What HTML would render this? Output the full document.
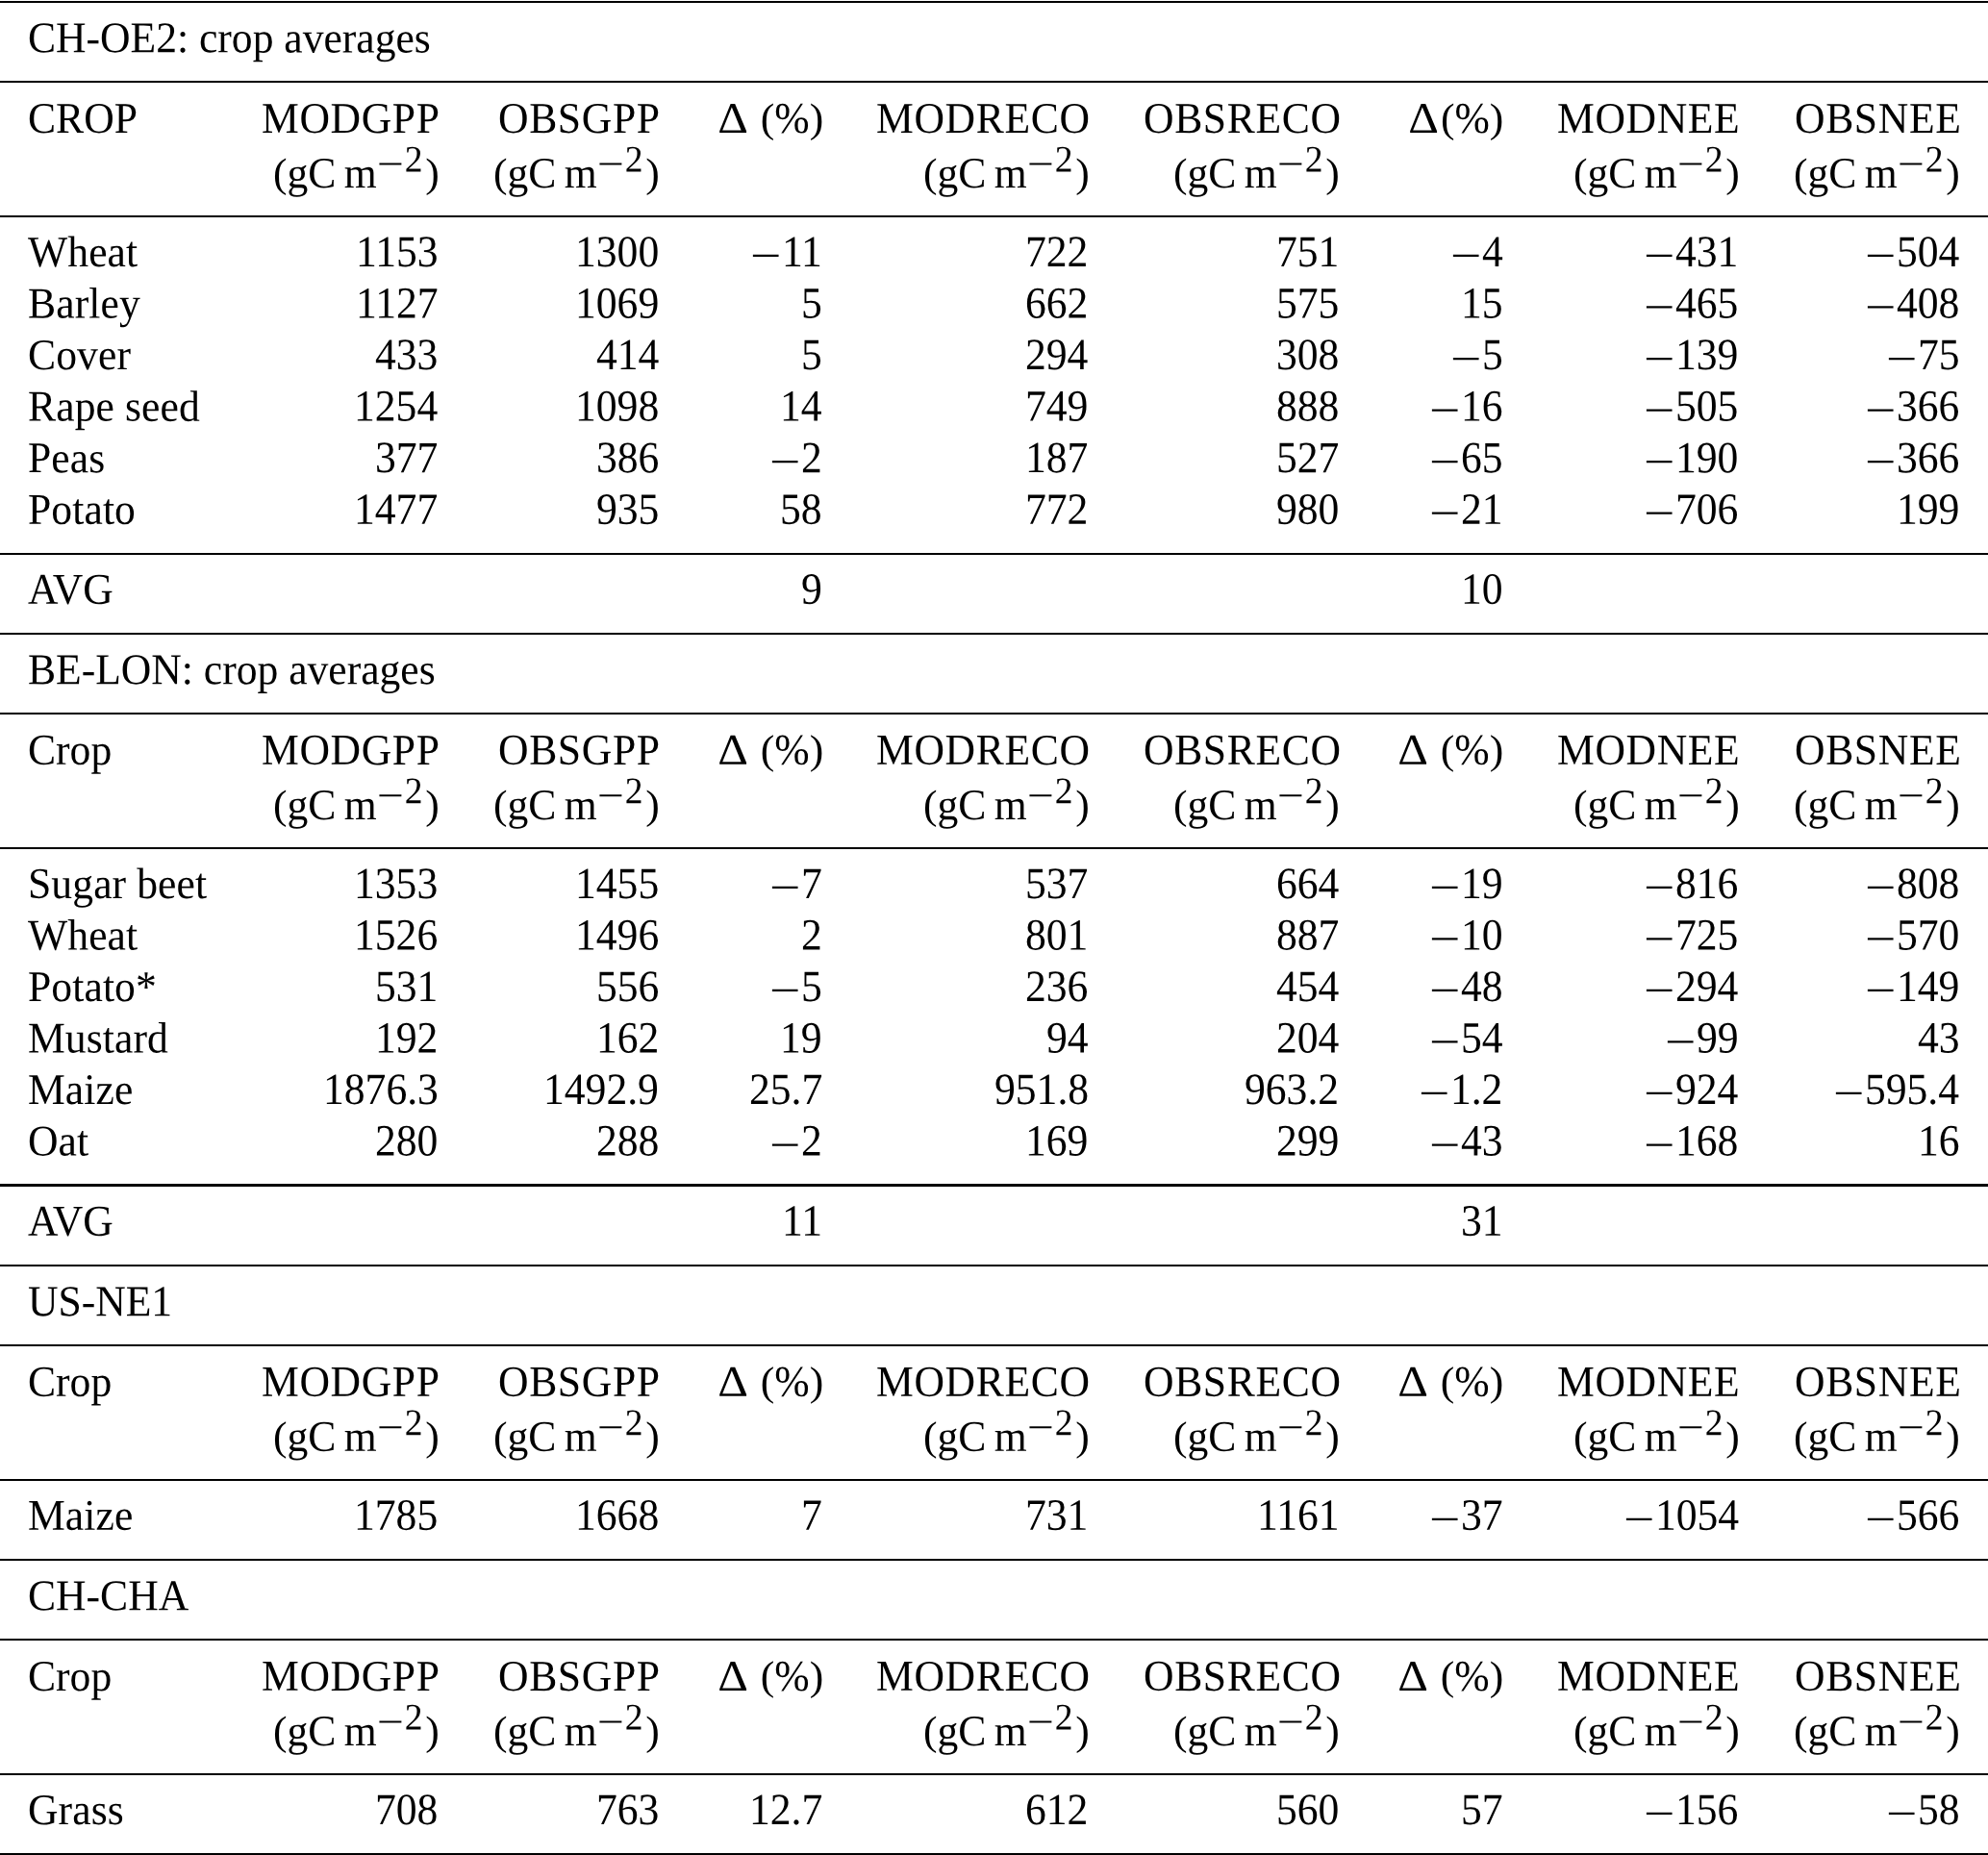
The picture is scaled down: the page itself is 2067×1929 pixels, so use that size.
<!DOCTYPE html>
<html lang="en"><head><meta charset="utf-8"><title>Crop averages table</title>
<style>
html,body{margin:0;padding:0;background:#fff}
body{width:2067px;height:1929px;position:relative;overflow:hidden;
 font-family:"Liberation Serif","Times New Roman",serif;font-size:43.6px;color:#000}
.page{position:absolute;left:0;top:0;width:2067px;height:1929px;will-change:transform}
.hr{position:absolute;left:0;width:2067px;height:2.15px;background:#000}
.t{position:absolute;white-space:nowrap;line-height:1;transform-origin:50% 36px;transform:translateY(var(--y)) rotate(0.03deg) scaleY(1.04)}
.n{transform:translateY(var(--y)) rotate(0.03deg) scaleY(1.062)}
.h{letter-spacing:0.65px}
.m{font-style:normal;display:inline-block;transform-origin:50% 62%;transform:translate(0,0.088em) scale(1.315,0.95);margin:0 0.107em}
.d{font-weight:normal;display:inline-block;transform-origin:50% 100%;transform:scale(1.13,1.0);margin:0 0.095em 0 0.04em}
.p{display:inline-block;transform-origin:50% 44%;transform:scaleY(0.94)}
.tt{letter-spacing:0.1px}
sup .m{transform:translate(-0.02em,0.128em) scale(1.315,1.0)}
.ts{letter-spacing:-0.43px}
sup{font-size:86%;line-height:0;vertical-align:baseline;position:relative;top:-0.43em;margin-right:0.07em}
</style></head>
<body>
<div class="page">
<div class="hr" style="top:0.80px"></div>
<div class="t" style="left:28.9px;top:18px;--y:0.37px">CH-OE2: crop averages</div>
<div class="hr" style="top:83.89px"></div>
<div class="t" style="left:28.9px;top:101px;--y:0.97px">CROP</div>
<div class="t h" style="right:1609.40px;top:101px;--y:0.97px">MODGPP</div>
<div class="t" style="right:1610.80px;top:159px;--y:0.07px"><span class="p">(</span>gC<span class="ts"> </span>m<sup><i class="m">−</i>2</sup><span class="p">)</span></div>
<div class="t h" style="right:1380.00px;top:101px;--y:0.97px">OBSGPP</div>
<div class="t" style="right:1381.40px;top:159px;--y:0.07px"><span class="p">(</span>gC<span class="ts"> </span>m<sup><i class="m">−</i>2</sup><span class="p">)</span></div>
<div class="t" style="right:1211.15px;top:101px;--y:0.97px"><b class="d">Δ</b> <span class="p">(</span>%<span class="p">)</span></div>
<div class="t h" style="right:933.30px;top:101px;--y:0.97px">MODRECO</div>
<div class="t" style="right:934.70px;top:159px;--y:0.07px"><span class="p">(</span>gC<span class="ts"> </span>m<sup><i class="m">−</i>2</sup><span class="p">)</span></div>
<div class="t h" style="right:672.70px;top:101px;--y:0.97px">OBSRECO</div>
<div class="t" style="right:674.10px;top:159px;--y:0.07px"><span class="p">(</span>gC<span class="ts"> </span>m<sup><i class="m">−</i>2</sup><span class="p">)</span></div>
<div class="t" style="right:503.65px;top:101px;--y:0.97px"><b class="d">Δ</b><span class="p">(</span>%<span class="p">)</span></div>
<div class="t h" style="right:257.30px;top:101px;--y:0.97px">MODNEE</div>
<div class="t" style="right:258.70px;top:159px;--y:0.07px"><span class="p">(</span>gC<span class="ts"> </span>m<sup><i class="m">−</i>2</sup><span class="p">)</span></div>
<div class="t h" style="right:27.60px;top:101px;--y:0.97px">OBSNEE</div>
<div class="t" style="right:29.00px;top:159px;--y:0.07px"><span class="p">(</span>gC<span class="ts"> </span>m<sup><i class="m">−</i>2</sup><span class="p">)</span></div>
<div class="hr" style="top:223.84px"></div>
<div class="t tt" style="left:28.9px;top:241px;--y:0.02px">Wheat</div>
<div class="t n" style="right:1611.40px;top:241px;--y:0.02px">1153</div>
<div class="t n" style="right:1382.00px;top:241px;--y:0.02px">1300</div>
<div class="t n" style="right:1212.20px;top:241px;--y:0.02px"><i class="m">−</i>11</div>
<div class="t n" style="right:935.30px;top:241px;--y:0.02px">722</div>
<div class="t n" style="right:674.70px;top:241px;--y:0.02px">751</div>
<div class="t n" style="right:504.70px;top:241px;--y:0.02px"><i class="m">−</i>4</div>
<div class="t n" style="right:259.30px;top:241px;--y:0.02px"><i class="m">−</i>431</div>
<div class="t n" style="right:29.60px;top:241px;--y:0.02px"><i class="m">−</i>504</div>
<div class="t tt" style="left:28.9px;top:294px;--y:0.55px">Barley</div>
<div class="t n" style="right:1611.40px;top:294px;--y:0.55px">1127</div>
<div class="t n" style="right:1382.00px;top:294px;--y:0.55px">1069</div>
<div class="t n" style="right:1212.20px;top:294px;--y:0.55px">5</div>
<div class="t n" style="right:935.30px;top:294px;--y:0.55px">662</div>
<div class="t n" style="right:674.70px;top:294px;--y:0.55px">575</div>
<div class="t n" style="right:504.70px;top:294px;--y:0.55px">15</div>
<div class="t n" style="right:259.30px;top:294px;--y:0.55px"><i class="m">−</i>465</div>
<div class="t n" style="right:29.60px;top:294px;--y:0.55px"><i class="m">−</i>408</div>
<div class="t tt" style="left:28.9px;top:348px;--y:0.08px">Cover</div>
<div class="t n" style="right:1611.40px;top:348px;--y:0.08px">433</div>
<div class="t n" style="right:1382.00px;top:348px;--y:0.08px">414</div>
<div class="t n" style="right:1212.20px;top:348px;--y:0.08px">5</div>
<div class="t n" style="right:935.30px;top:348px;--y:0.08px">294</div>
<div class="t n" style="right:674.70px;top:348px;--y:0.08px">308</div>
<div class="t n" style="right:504.70px;top:348px;--y:0.08px"><i class="m">−</i>5</div>
<div class="t n" style="right:259.30px;top:348px;--y:0.08px"><i class="m">−</i>139</div>
<div class="t n" style="right:29.60px;top:348px;--y:0.08px"><i class="m">−</i>75</div>
<div class="t tt" style="left:28.9px;top:401px;--y:0.61px">Rape seed</div>
<div class="t n" style="right:1611.40px;top:401px;--y:0.61px">1254</div>
<div class="t n" style="right:1382.00px;top:401px;--y:0.61px">1098</div>
<div class="t n" style="right:1212.20px;top:401px;--y:0.61px">14</div>
<div class="t n" style="right:935.30px;top:401px;--y:0.61px">749</div>
<div class="t n" style="right:674.70px;top:401px;--y:0.61px">888</div>
<div class="t n" style="right:504.70px;top:401px;--y:0.61px"><i class="m">−</i>16</div>
<div class="t n" style="right:259.30px;top:401px;--y:0.61px"><i class="m">−</i>505</div>
<div class="t n" style="right:29.60px;top:401px;--y:0.61px"><i class="m">−</i>366</div>
<div class="t tt" style="left:28.9px;top:455px;--y:0.14px">Peas</div>
<div class="t n" style="right:1611.40px;top:455px;--y:0.14px">377</div>
<div class="t n" style="right:1382.00px;top:455px;--y:0.14px">386</div>
<div class="t n" style="right:1212.20px;top:455px;--y:0.14px"><i class="m">−</i>2</div>
<div class="t n" style="right:935.30px;top:455px;--y:0.14px">187</div>
<div class="t n" style="right:674.70px;top:455px;--y:0.14px">527</div>
<div class="t n" style="right:504.70px;top:455px;--y:0.14px"><i class="m">−</i>65</div>
<div class="t n" style="right:259.30px;top:455px;--y:0.14px"><i class="m">−</i>190</div>
<div class="t n" style="right:29.60px;top:455px;--y:0.14px"><i class="m">−</i>366</div>
<div class="t tt" style="left:28.9px;top:508px;--y:0.67px">Potato</div>
<div class="t n" style="right:1611.40px;top:508px;--y:0.67px">1477</div>
<div class="t n" style="right:1382.00px;top:508px;--y:0.67px">935</div>
<div class="t n" style="right:1212.20px;top:508px;--y:0.67px">58</div>
<div class="t n" style="right:935.30px;top:508px;--y:0.67px">772</div>
<div class="t n" style="right:674.70px;top:508px;--y:0.67px">980</div>
<div class="t n" style="right:504.70px;top:508px;--y:0.67px"><i class="m">−</i>21</div>
<div class="t n" style="right:259.30px;top:508px;--y:0.67px"><i class="m">−</i>706</div>
<div class="t n" style="right:29.60px;top:508px;--y:0.67px">199</div>
<div class="hr" style="top:574.59px"></div>
<div class="t" style="left:28.9px;top:591px;--y:0.77px">AVG</div>
<div class="t n" style="right:1212.20px;top:591px;--y:0.77px">9</div>
<div class="t n" style="right:504.70px;top:591px;--y:0.77px">10</div>
<div class="hr" style="top:657.69px"></div>
<div class="t" style="left:28.9px;top:675px;--y:0.27px">BE-LON: crop averages</div>
<div class="hr" style="top:740.79px"></div>
<div class="t" style="left:28.9px;top:758px;--y:0.87px">Crop</div>
<div class="t h" style="right:1609.40px;top:758px;--y:0.87px">MODGPP</div>
<div class="t" style="right:1610.80px;top:815px;--y:0.97px"><span class="p">(</span>gC<span class="ts"> </span>m<sup><i class="m">−</i>2</sup><span class="p">)</span></div>
<div class="t h" style="right:1380.00px;top:758px;--y:0.87px">OBSGPP</div>
<div class="t" style="right:1381.40px;top:815px;--y:0.97px"><span class="p">(</span>gC<span class="ts"> </span>m<sup><i class="m">−</i>2</sup><span class="p">)</span></div>
<div class="t" style="right:1211.15px;top:758px;--y:0.87px"><b class="d">Δ</b> <span class="p">(</span>%<span class="p">)</span></div>
<div class="t h" style="right:933.30px;top:758px;--y:0.87px">MODRECO</div>
<div class="t" style="right:934.70px;top:815px;--y:0.97px"><span class="p">(</span>gC<span class="ts"> </span>m<sup><i class="m">−</i>2</sup><span class="p">)</span></div>
<div class="t h" style="right:672.70px;top:758px;--y:0.87px">OBSRECO</div>
<div class="t" style="right:674.10px;top:815px;--y:0.97px"><span class="p">(</span>gC<span class="ts"> </span>m<sup><i class="m">−</i>2</sup><span class="p">)</span></div>
<div class="t" style="right:503.65px;top:758px;--y:0.87px"><b class="d">Δ</b> <span class="p">(</span>%<span class="p">)</span></div>
<div class="t h" style="right:257.30px;top:758px;--y:0.87px">MODNEE</div>
<div class="t" style="right:258.70px;top:815px;--y:0.97px"><span class="p">(</span>gC<span class="ts"> </span>m<sup><i class="m">−</i>2</sup><span class="p">)</span></div>
<div class="t h" style="right:27.60px;top:758px;--y:0.87px">OBSNEE</div>
<div class="t" style="right:29.00px;top:815px;--y:0.97px"><span class="p">(</span>gC<span class="ts"> </span>m<sup><i class="m">−</i>2</sup><span class="p">)</span></div>
<div class="hr" style="top:880.74px"></div>
<div class="t tt" style="left:28.9px;top:897px;--y:0.92px">Sugar beet</div>
<div class="t n" style="right:1611.40px;top:897px;--y:0.92px">1353</div>
<div class="t n" style="right:1382.00px;top:897px;--y:0.92px">1455</div>
<div class="t n" style="right:1212.20px;top:897px;--y:0.92px"><i class="m">−</i>7</div>
<div class="t n" style="right:935.30px;top:897px;--y:0.92px">537</div>
<div class="t n" style="right:674.70px;top:897px;--y:0.92px">664</div>
<div class="t n" style="right:504.70px;top:897px;--y:0.92px"><i class="m">−</i>19</div>
<div class="t n" style="right:259.30px;top:897px;--y:0.92px"><i class="m">−</i>816</div>
<div class="t n" style="right:29.60px;top:897px;--y:0.92px"><i class="m">−</i>808</div>
<div class="t tt" style="left:28.9px;top:951px;--y:0.45px">Wheat</div>
<div class="t n" style="right:1611.40px;top:951px;--y:0.45px">1526</div>
<div class="t n" style="right:1382.00px;top:951px;--y:0.45px">1496</div>
<div class="t n" style="right:1212.20px;top:951px;--y:0.45px">2</div>
<div class="t n" style="right:935.30px;top:951px;--y:0.45px">801</div>
<div class="t n" style="right:674.70px;top:951px;--y:0.45px">887</div>
<div class="t n" style="right:504.70px;top:951px;--y:0.45px"><i class="m">−</i>10</div>
<div class="t n" style="right:259.30px;top:951px;--y:0.45px"><i class="m">−</i>725</div>
<div class="t n" style="right:29.60px;top:951px;--y:0.45px"><i class="m">−</i>570</div>
<div class="t tt" style="left:28.9px;top:1004px;--y:0.98px">Potato*</div>
<div class="t n" style="right:1611.40px;top:1004px;--y:0.98px">531</div>
<div class="t n" style="right:1382.00px;top:1004px;--y:0.98px">556</div>
<div class="t n" style="right:1212.20px;top:1004px;--y:0.98px"><i class="m">−</i>5</div>
<div class="t n" style="right:935.30px;top:1004px;--y:0.98px">236</div>
<div class="t n" style="right:674.70px;top:1004px;--y:0.98px">454</div>
<div class="t n" style="right:504.70px;top:1004px;--y:0.98px"><i class="m">−</i>48</div>
<div class="t n" style="right:259.30px;top:1004px;--y:0.98px"><i class="m">−</i>294</div>
<div class="t n" style="right:29.60px;top:1004px;--y:0.98px"><i class="m">−</i>149</div>
<div class="t tt" style="left:28.9px;top:1058px;--y:0.51px">Mustard</div>
<div class="t n" style="right:1611.40px;top:1058px;--y:0.51px">192</div>
<div class="t n" style="right:1382.00px;top:1058px;--y:0.51px">162</div>
<div class="t n" style="right:1212.20px;top:1058px;--y:0.51px">19</div>
<div class="t n" style="right:935.30px;top:1058px;--y:0.51px">94</div>
<div class="t n" style="right:674.70px;top:1058px;--y:0.51px">204</div>
<div class="t n" style="right:504.70px;top:1058px;--y:0.51px"><i class="m">−</i>54</div>
<div class="t n" style="right:259.30px;top:1058px;--y:0.51px"><i class="m">−</i>99</div>
<div class="t n" style="right:29.60px;top:1058px;--y:0.51px">43</div>
<div class="t tt" style="left:28.9px;top:1112px;--y:0.04px">Maize</div>
<div class="t n" style="right:1611.40px;top:1112px;--y:0.04px">1876.3</div>
<div class="t n" style="right:1382.00px;top:1112px;--y:0.04px">1492.9</div>
<div class="t n" style="right:1212.20px;top:1112px;--y:0.04px">25.7</div>
<div class="t n" style="right:935.30px;top:1112px;--y:0.04px">951.8</div>
<div class="t n" style="right:674.70px;top:1112px;--y:0.04px">963.2</div>
<div class="t n" style="right:504.70px;top:1112px;--y:0.04px"><i class="m">−</i>1.2</div>
<div class="t n" style="right:259.30px;top:1112px;--y:0.04px"><i class="m">−</i>924</div>
<div class="t n" style="right:29.60px;top:1112px;--y:0.04px"><i class="m">−</i>595.4</div>
<div class="t tt" style="left:28.9px;top:1165px;--y:0.57px">Oat</div>
<div class="t n" style="right:1611.40px;top:1165px;--y:0.57px">280</div>
<div class="t n" style="right:1382.00px;top:1165px;--y:0.57px">288</div>
<div class="t n" style="right:1212.20px;top:1165px;--y:0.57px"><i class="m">−</i>2</div>
<div class="t n" style="right:935.30px;top:1165px;--y:0.57px">169</div>
<div class="t n" style="right:674.70px;top:1165px;--y:0.57px">299</div>
<div class="t n" style="right:504.70px;top:1165px;--y:0.57px"><i class="m">−</i>43</div>
<div class="t n" style="right:259.30px;top:1165px;--y:0.57px"><i class="m">−</i>168</div>
<div class="t n" style="right:29.60px;top:1165px;--y:0.57px">16</div>
<div class="hr" style="top:1231.49px"></div>
<div class="t" style="left:28.9px;top:1248px;--y:0.67px">AVG</div>
<div class="t n" style="right:1212.20px;top:1248px;--y:0.67px">11</div>
<div class="t n" style="right:504.70px;top:1248px;--y:0.67px">31</div>
<div class="hr" style="top:1314.59px"></div>
<div class="t" style="left:28.9px;top:1332px;--y:0.17px">US-NE1</div>
<div class="hr" style="top:1397.69px"></div>
<div class="t" style="left:28.9px;top:1415px;--y:0.77px">Crop</div>
<div class="t h" style="right:1609.40px;top:1415px;--y:0.77px">MODGPP</div>
<div class="t" style="right:1610.80px;top:1472px;--y:0.87px"><span class="p">(</span>gC<span class="ts"> </span>m<sup><i class="m">−</i>2</sup><span class="p">)</span></div>
<div class="t h" style="right:1380.00px;top:1415px;--y:0.77px">OBSGPP</div>
<div class="t" style="right:1381.40px;top:1472px;--y:0.87px"><span class="p">(</span>gC<span class="ts"> </span>m<sup><i class="m">−</i>2</sup><span class="p">)</span></div>
<div class="t" style="right:1211.15px;top:1415px;--y:0.77px"><b class="d">Δ</b> <span class="p">(</span>%<span class="p">)</span></div>
<div class="t h" style="right:933.30px;top:1415px;--y:0.77px">MODRECO</div>
<div class="t" style="right:934.70px;top:1472px;--y:0.87px"><span class="p">(</span>gC<span class="ts"> </span>m<sup><i class="m">−</i>2</sup><span class="p">)</span></div>
<div class="t h" style="right:672.70px;top:1415px;--y:0.77px">OBSRECO</div>
<div class="t" style="right:674.10px;top:1472px;--y:0.87px"><span class="p">(</span>gC<span class="ts"> </span>m<sup><i class="m">−</i>2</sup><span class="p">)</span></div>
<div class="t" style="right:503.65px;top:1415px;--y:0.77px"><b class="d">Δ</b> <span class="p">(</span>%<span class="p">)</span></div>
<div class="t h" style="right:257.30px;top:1415px;--y:0.77px">MODNEE</div>
<div class="t" style="right:258.70px;top:1472px;--y:0.87px"><span class="p">(</span>gC<span class="ts"> </span>m<sup><i class="m">−</i>2</sup><span class="p">)</span></div>
<div class="t h" style="right:27.60px;top:1415px;--y:0.77px">OBSNEE</div>
<div class="t" style="right:29.00px;top:1472px;--y:0.87px"><span class="p">(</span>gC<span class="ts"> </span>m<sup><i class="m">−</i>2</sup><span class="p">)</span></div>
<div class="hr" style="top:1537.64px"></div>
<div class="t tt" style="left:28.9px;top:1554px;--y:0.82px">Maize</div>
<div class="t n" style="right:1611.40px;top:1554px;--y:0.82px">1785</div>
<div class="t n" style="right:1382.00px;top:1554px;--y:0.82px">1668</div>
<div class="t n" style="right:1212.20px;top:1554px;--y:0.82px">7</div>
<div class="t n" style="right:935.30px;top:1554px;--y:0.82px">731</div>
<div class="t n" style="right:674.70px;top:1554px;--y:0.82px">1161</div>
<div class="t n" style="right:504.70px;top:1554px;--y:0.82px"><i class="m">−</i>37</div>
<div class="t n" style="right:259.30px;top:1554px;--y:0.82px"><i class="m">−</i>1054</div>
<div class="t n" style="right:29.60px;top:1554px;--y:0.82px"><i class="m">−</i>566</div>
<div class="hr" style="top:1620.74px"></div>
<div class="t" style="left:28.9px;top:1638px;--y:0.32px">CH-CHA</div>
<div class="hr" style="top:1703.84px"></div>
<div class="t" style="left:28.9px;top:1721px;--y:0.92px">Crop</div>
<div class="t h" style="right:1609.40px;top:1721px;--y:0.92px">MODGPP</div>
<div class="t" style="right:1610.80px;top:1779px;--y:0.02px"><span class="p">(</span>gC<span class="ts"> </span>m<sup><i class="m">−</i>2</sup><span class="p">)</span></div>
<div class="t h" style="right:1380.00px;top:1721px;--y:0.92px">OBSGPP</div>
<div class="t" style="right:1381.40px;top:1779px;--y:0.02px"><span class="p">(</span>gC<span class="ts"> </span>m<sup><i class="m">−</i>2</sup><span class="p">)</span></div>
<div class="t" style="right:1211.15px;top:1721px;--y:0.92px"><b class="d">Δ</b> <span class="p">(</span>%<span class="p">)</span></div>
<div class="t h" style="right:933.30px;top:1721px;--y:0.92px">MODRECO</div>
<div class="t" style="right:934.70px;top:1779px;--y:0.02px"><span class="p">(</span>gC<span class="ts"> </span>m<sup><i class="m">−</i>2</sup><span class="p">)</span></div>
<div class="t h" style="right:672.70px;top:1721px;--y:0.92px">OBSRECO</div>
<div class="t" style="right:674.10px;top:1779px;--y:0.02px"><span class="p">(</span>gC<span class="ts"> </span>m<sup><i class="m">−</i>2</sup><span class="p">)</span></div>
<div class="t" style="right:503.65px;top:1721px;--y:0.92px"><b class="d">Δ</b> <span class="p">(</span>%<span class="p">)</span></div>
<div class="t h" style="right:257.30px;top:1721px;--y:0.92px">MODNEE</div>
<div class="t" style="right:258.70px;top:1779px;--y:0.02px"><span class="p">(</span>gC<span class="ts"> </span>m<sup><i class="m">−</i>2</sup><span class="p">)</span></div>
<div class="t h" style="right:27.60px;top:1721px;--y:0.92px">OBSNEE</div>
<div class="t" style="right:29.00px;top:1779px;--y:0.02px"><span class="p">(</span>gC<span class="ts"> </span>m<sup><i class="m">−</i>2</sup><span class="p">)</span></div>
<div class="hr" style="top:1843.79px"></div>
<div class="t tt" style="left:28.9px;top:1860px;--y:0.97px">Grass</div>
<div class="t n" style="right:1611.40px;top:1860px;--y:0.97px">708</div>
<div class="t n" style="right:1382.00px;top:1860px;--y:0.97px">763</div>
<div class="t n" style="right:1212.20px;top:1860px;--y:0.97px">12.7</div>
<div class="t n" style="right:935.30px;top:1860px;--y:0.97px">612</div>
<div class="t n" style="right:674.70px;top:1860px;--y:0.97px">560</div>
<div class="t n" style="right:504.70px;top:1860px;--y:0.97px">57</div>
<div class="t n" style="right:259.30px;top:1860px;--y:0.97px"><i class="m">−</i>156</div>
<div class="t n" style="right:29.60px;top:1860px;--y:0.97px"><i class="m">−</i>58</div>
<div class="hr" style="top:1926.89px"></div>
</div>
</body></html>
